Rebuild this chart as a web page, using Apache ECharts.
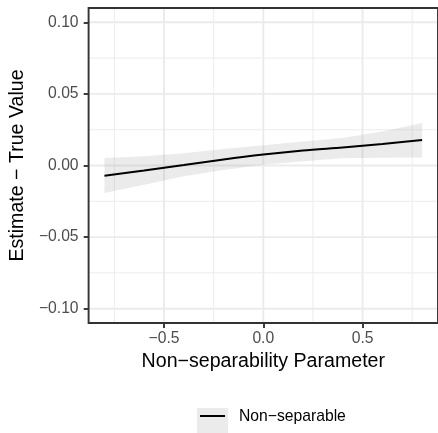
<!DOCTYPE html>
<html>
<head>
<meta charset="utf-8">
<script src="https://cdn.jsdelivr.net/npm/echarts@6/dist/echarts.min.js"></script>
<style>
html, body { margin: 0; padding: 0; background: #ffffff; }
#chart { width: 438px; height: 433px; }
</style>
</head>
<body>
<div id="chart"></div>
<script>
// Smoothed estimate error along the non-separability parameter, with its confidence band
const xValues  = [-0.8, -0.6, -0.4, -0.2, 0.0, 0.2, 0.4, 0.6, 0.8];
const estimate = [-0.0072, -0.0035, 0.0003, 0.0042, 0.0076, 0.0104, 0.0126, 0.0150, 0.0178];
const upper    = [0.0052, 0.0065, 0.0085, 0.0115, 0.0141, 0.0168, 0.0192, 0.0238, 0.0296];
const lower    = [-0.0192, -0.0135, -0.0075, -0.0032, 0.0005, 0.0030, 0.0050, 0.0055, 0.0056];

const xTicks = [-0.5, 0.0, 0.5];
const xMinor = [-0.75, -0.25, 0.25, 0.75];
const yTicks = [-0.10, -0.05, 0.00, 0.05, 0.10];
const yMinor = [-0.075, -0.025, 0.025, 0.075];

const seriesName = 'Non\u2212separable';
const xTitle = 'Non\u2212separability Parameter';
const yTitle = 'Estimate \u2212 True Value';

const FONT = '"Liberation Sans", Arial, Helvetica, sans-serif';
const GRID_COLOR = '#EBEBEB';
const BAND_COLOR = 'rgba(153,153,153,0.2)';
const fmt = (v, d) => (v < 0 ? '\u2212' : '') + Math.abs(v).toFixed(d);

// [orientation (0 = vertical, 1 = horizontal), value, isMajor]
const gridItems = [
  ...xMinor.map(v => [0, v, 0]),
  ...yMinor.map(v => [1, v, 0]),
  ...xTicks.map(v => [0, v, 1]),
  ...yTicks.map(v => [1, v, 1])
];

function renderGridLine(params, api) {
  const cs = params.coordSys;
  const vertical = api.value(0) === 0;
  const v = api.value(1);
  const width = api.value(2) ? 1.9 : 0.95;
  let shape;
  if (vertical) {
    const px = api.coord([v, 0])[0];
    shape = { x1: px, y1: cs.y, x2: px, y2: cs.y + cs.height };
  } else {
    const py = api.coord([0, v])[1];
    shape = { x1: cs.x, y1: py, x2: cs.x + cs.width, y2: py };
  }
  return { type: 'line', shape, style: { stroke: GRID_COLOR, lineWidth: width }, silent: true };
}

function renderBand(params, api) {
  const top = xValues.map((x, i) => api.coord([x, upper[i]]));
  const bottom = xValues.map((x, i) => api.coord([x, lower[i]])).reverse();
  return {
    type: 'polygon',
    shape: { points: top.concat(bottom) },
    style: { fill: BAND_COLOR, stroke: null },
    silent: true
  };
}

const chart = echarts.init(document.getElementById('chart'), null, { renderer: 'canvas' });

chart.setOption({
  animation: false,
  backgroundColor: '#ffffff',
  textStyle: { fontFamily: FONT },
  grid: {
    left: 88, top: 8, right: -10, bottom: 110,
    show: true, borderColor: '#333333', borderWidth: 1.9, backgroundColor: 'transparent',
    z: 10
  },
  xAxis: {
    type: 'value', min: -0.88, max: 0.88,
    splitLine: { show: false },
    axisLine: { show: false, onZero: false },
    axisTick: { show: true, customValues: xTicks, length: 4.9, lineStyle: { color: '#333333', width: 1.9 } },
    axisLabel: { customValues: xTicks, formatter: v => fmt(v, 1), color: '#4D4D4D', fontSize: 15.7, margin: 8, fontFamily: FONT },
    name: xTitle, nameLocation: 'middle', nameGap: 27,
    nameTextStyle: { color: '#000000', fontSize: 19.6, fontFamily: FONT }
  },
  yAxis: {
    type: 'value', min: -0.11, max: 0.11,
    splitLine: { show: false },
    axisLine: { show: false, onZero: false },
    axisTick: { show: true, customValues: yTicks, length: 4.9, lineStyle: { color: '#333333', width: 1.9 } },
    axisLabel: { customValues: yTicks, formatter: v => fmt(v, 2), color: '#4D4D4D', fontSize: 15.7, margin: 10, fontFamily: FONT },
    name: yTitle, nameLocation: 'middle', nameGap: 52, nameRotate: 90,
    nameTextStyle: { color: '#000000', fontSize: 19.6, fontFamily: FONT }
  },
  series: [
    {
      type: 'custom', data: gridItems, renderItem: renderGridLine,
      silent: true, clip: true, z: 1
    },
    {
      type: 'custom', data: [[0, 0]], renderItem: renderBand,
      silent: true, clip: true, z: 2
    },
    {
      name: seriesName, type: 'line', data: xValues.map((x, i) => [x, estimate[i]]), smooth: 0.3,
      symbol: 'none', lineStyle: { color: '#000000', width: 2 }, z: 3
    }
  ],
  graphic: [
    {
      type: 'group', left: 197, top: 408,
      children: [
        { type: 'rect', shape: { x: 0, y: 0, width: 31, height: 25 }, style: { fill: '#EBEBEB' } },
        { type: 'line', shape: { x1: 3, y1: 8, x2: 28, y2: 8 }, style: { stroke: '#000000', lineWidth: 2 } },
        { type: 'text', x: 42, y: 8.5, style: { text: seriesName, fill: '#000000', font: '15.7px ' + FONT, verticalAlign: 'middle', align: 'left' } }
      ]
    }
  ]
});
</script>
</body>
</html>
